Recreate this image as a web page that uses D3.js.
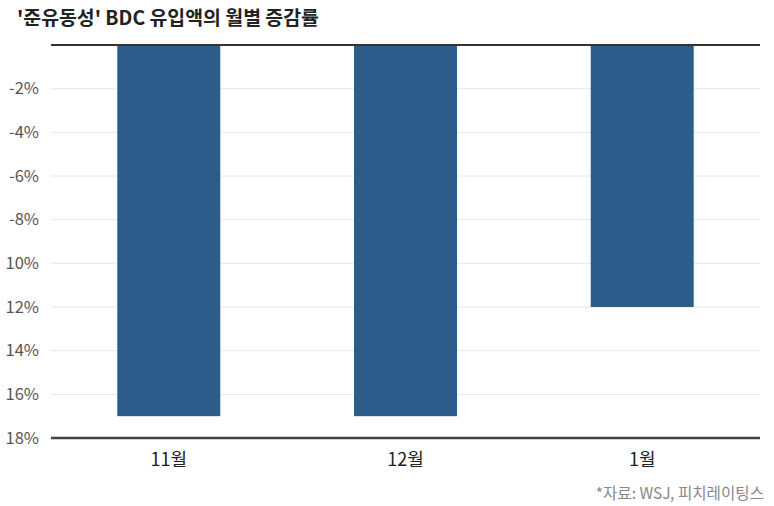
<!DOCTYPE html>
<html><head><meta charset="utf-8">
<script src="https://cdn.jsdelivr.net/npm/d3@7"></script>
<style>
body{margin:0;background:#fff;}
svg{display:block;font-family:"Noto Sans CJK KR","Noto Sans",sans-serif;}
</style></head>
<body><svg id="c" width="774" height="506"></svg>
<script>
const categories = ["11월", "12월", "1월"];
const values = [-17, -17, -12];
const tickValues = [-2, -4, -6, -8, -10, -12, -14, -16, -18];
const tickLabels = ["-2%", "-4%", "-6%", "-8%", "10%", "12%", "14%", "16%", "18%"];
const title = "'준유동성' BDC 유입액의 월별 증감률";
const source = "*자료: WSJ, 피치레이팅스";

const svg = d3.select("#c");
const L = 51, R = 760, T = 45, B = 438;
const x = d3.scaleBand().domain(categories).range([L, R]).paddingInner(0.565).paddingOuter(0.28);
const y = d3.scaleLinear().domain([0, -18]).range([T, B]);

svg.append("text").attr("x", 17).attr("y", 25).attr("font-size", 19.4).attr("font-weight", 700)
  .attr("fill", "#222").text(title);

// gridlines
svg.append("g").selectAll("line").data(tickValues.slice(0, -1)).join("line")
  .attr("x1", L).attr("x2", R).attr("y1", d => y(d)).attr("y2", d => y(d))
  .attr("stroke", "#e6e6e6").attr("stroke-width", 1);

// y axis labels
const yAxis = d3.axisLeft(y).tickValues(tickValues).tickSize(0).tickPadding(0)
  .tickFormat((d, i) => tickLabels[i]);
const gy = svg.append("g").attr("transform", `translate(${L - 12},0)`).call(yAxis);
gy.select(".domain").remove();
gy.selectAll("text").attr("font-size", 16.5).attr("fill", "#555").attr("font-family", "\"Noto Sans CJK KR\",sans-serif");

// bars
svg.append("g").selectAll("rect").data(values).join("rect")
  .attr("x", (d, i) => x(categories[i])).attr("width", x.bandwidth())
  .attr("y", d => y(0)).attr("height", d => y(d) - y(0))
  .attr("fill", "#2c5d8a");

// top & bottom lines
svg.append("line").attr("x1", L).attr("x2", R).attr("y1", y(0)).attr("y2", y(0))
  .attr("stroke", "#333").attr("stroke-width", 2);
svg.append("line").attr("x1", L).attr("x2", R).attr("y1", y(-18)).attr("y2", y(-18))
  .attr("stroke", "#444").attr("stroke-width", 2.5);

// x labels
const xAxis = d3.axisBottom(x).tickSize(0).tickPadding(0);
const gx = svg.append("g").attr("transform", `translate(0,${B + 15})`).call(xAxis);
gx.select(".domain").remove();
gx.selectAll("text").attr("font-size", 18).attr("fill", "#222").attr("font-family", "\"Noto Sans CJK KR\",sans-serif");

svg.append("text").attr("x", 764).attr("y", 499).attr("text-anchor", "end")
  .attr("font-size", 15.6).attr("fill", "#888").text(source);
</script></body></html>
